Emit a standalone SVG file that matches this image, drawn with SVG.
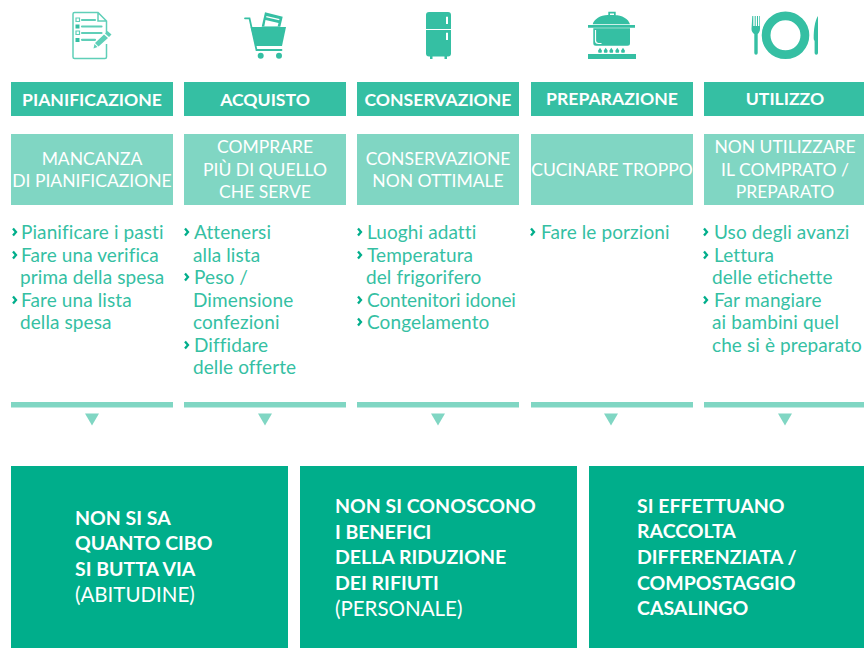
<svg xmlns="http://www.w3.org/2000/svg" width="864" height="648" viewBox="0 0 864 648">
<style>
text{font-family:"Lato","Liberation Sans",sans-serif}
.h{fill:#35bfa3}.l{fill:#80d6c3}.b{fill:#00ae8b}.w{fill:#fff}
.ht{fill:#fff;font-size:17.600px;font-weight:700;text-anchor:middle}
.st{fill:#fff;font-size:17.500px;text-anchor:middle}
.it{fill:#35bfa3;font-size:19px;letter-spacing:.1px}
.ch{fill:none;stroke:#00ae8b;stroke-width:2.300}
.bt{fill:#fff;font-size:19.500px;font-weight:700}
.bn{fill:#fff;font-size:20.500px}
.ln{fill:none;stroke:#5fcfb8;stroke-width:1.200}
.lt{fill:none;stroke:#5fcfb8;stroke-width:2.200;stroke-linecap:round}
</style>
<defs>
<path id="c" class="ch" d="M13 228.500l3 3.500-3 3.500"/>
<path id="t" class="l" d="M85 413.500h14l-7 12z"/>
</defs>
<g id="icons">
<g id="icon-list">
<path class="ln" style="stroke-width:1.500" d="M106.500 33V21L98 12.500H74.500a1.500 1.500 0 0 0-1.500 1.500v43a1.500 1.500 0 0 0 1.500 1.500H105a1.500 1.500 0 0 0 1.500-1.500V44M98 12.500V21h8.500"/>
<path class="lt" d="M82 20h13M82 26.500h19.500M82 33h19.500M82 39.800h13"/>
<path class="ln" d="M76 18h3.500v3.500H76zM76 31h3.500v3.500H76z"/>
<path class="h" d="M75.500 24.500h4v4h-4zM75.500 38h4v4h-4z"/>
<path class="lt" style="stroke-width:3.600;stroke:#fff" d="M109 35L97 46"/>
<path class="h" style="fill:#5fcfb8" d="M107.500 31l4 3.500-2.500 2.500-4-3.500zM104 34.500l4 3.500-9.500 8.500-3.500-3.500zM94.500 44l3 3-4 1.500z"/>
</g>
<g id="icon-cart">
<path class="h" d="M250.700 27H286l-4 19h-26.300z"/>
<path class="h" d="M265 12.300l17.700 4.400-2.400 10H261.700z"/>
<path class="w" d="M265.500 20l13 3-.8 3.200h-13.400zM266.500 16l13 3-.4 1.200-13-3z"/>
<path class="lt" style="stroke:#35bfa3;stroke-width:1.800" d="M245 18.300h4.500l7 31.700h25"/>
<circle class="h" cx="260.700" cy="55.700" r="3"/><circle class="h" cx="279" cy="55.700" r="3"/>
</g>
<g id="icon-fridge">
<path class="h" d="M426 29v-14a3 3 0 0 1 3-3h19a3 3 0 0 1 3 3v14zM426 30h25v23.500a3 3 0 0 1-3 3h-19a3 3 0 0 1-3-3zM430 56h2.500v3H430zM444.500 56h2.500v3h-2.500z"/>
<path class="w" d="M446 16.700h2V24h-2zM446 32.700h2V40h-2z"/>
</g>
<g id="icon-pot">
<path class="h" d="M588 25h47v2.700h-47zM592.700 24.300c1-5 8-9.300 15-9.300h7c7 0 14 4 15.300 9.300zM608.300 11.700h7.400V15.500h-1.700v-2h-4v2h-1.700zM593.300 28.300H630v15a2.500 2.500 0 0 1-2.500 2.500h-31.700a2.500 2.500 0 0 1-2.500-2.500zM588 54h48v5h-48z"/>
<path class="ln" style="stroke:#fff" d="M595.500 30v10.500a3 3 0 0 0 3 3h3"/>
<path class="h" d="M600 47.700l2 3-.5 2h-3l-.5-2zM605.700 47.700l2 3-.5 2h-3l-.5-2zM611.300 47.700l2 3-.5 2h-3l-.5-2zM617.300 47.700l2 3-.5 2h-3l-.5-2zM623 47.700l2 3-.5 2h-3l-.5-2z"/>
</g>
<g id="icon-plate">
<circle cx="785.500" cy="35.300" r="19.400" fill="none" stroke="#35bfa3" stroke-width="8.800"/>
<path class="h" d="M752.300 16h1v10h1.400V16h1v10h1.300V16h1v10h1.300V16h.7v13c0 2.500-1.300 4-2.300 5v19a1.700 1.700 0 0 1-3.400 0V34c-1.500-1-2.800-2.500-2.800-5z"/>
<path class="h" d="M818 16v37a1.700 1.700 0 0 1-3.400 0V41c-.6-1-.9-1.500-.9-3c0-8 1-17 4.300-22z"/>
</g>
</g>
<g id="col1">
<rect class="h" x="11" y="82" width="162" height="34"/>
<text class="ht" x="92" y="105.500">PIANIFICAZIONE</text>
<rect class="l" x="11" y="134" width="162" height="71"/>
<text class="st" x="92" y="164.500">MANCANZA</text><text class="st" x="92" y="186.500">DI PIANIFICAZIONE</text>
<use href="#c"/><text class="it" x="21" y="238.500">Pianificare i pasti</text>
<use href="#c" y="23"/><text class="it" x="21" y="261.500">Fare una verifica</text><text class="it" x="20" y="283.500">prima della spesa</text>
<use href="#c" y="68"/><text class="it" x="21" y="306.500">Fare una lista</text><text class="it" x="20" y="328.500">della spesa</text>
<rect class="l" x="11" y="402" width="162" height="5.500"/>
<use href="#t"/>
</g>
<g id="col2">
<rect class="h" x="184" y="82" width="162" height="34"/>
<text class="ht" x="265" y="105.500">ACQUISTO</text>
<rect class="l" x="184" y="134" width="162" height="71"/>
<text class="st" x="265" y="153">COMPRARE</text><text class="st" x="265" y="175.500">PIÙ DI QUELLO</text><text class="st" x="265" y="198">CHE SERVE</text>
<use href="#c" x="172"/><text class="it" x="194" y="238.500">Attenersi</text><text class="it" x="193" y="261.500">alla lista</text>
<use href="#c" x="172" y="45"/><text class="it" x="194" y="283.500">Peso /</text><text class="it" x="193" y="306.500">Dimensione</text><text class="it" x="193" y="328.500">confezioni</text>
<use href="#c" x="172" y="113"/><text class="it" x="194" y="351.500">Diffidare</text><text class="it" x="193" y="373.500">delle offerte</text>
<rect class="l" x="184" y="402" width="162" height="5.500"/>
<use href="#t" x="173"/>
</g>
<g id="col3">
<rect class="h" x="357" y="82" width="162" height="34"/>
<text class="ht" x="438" y="105.500">CONSERVAZIONE</text>
<rect class="l" x="357" y="134" width="162" height="71"/>
<text class="st" x="438" y="164.500">CONSERVAZIONE</text><text class="st" x="438" y="186.500">NON OTTIMALE</text>
<use href="#c" x="345"/><text class="it" x="367" y="238.500">Luoghi adatti</text>
<use href="#c" x="345" y="23"/><text class="it" x="367" y="261.500">Temperatura</text><text class="it" x="366" y="283.500">del frigorifero</text>
<use href="#c" x="345" y="68"/><text class="it" x="367" y="306.500" textLength="149">Contenitori idonei</text>
<use href="#c" x="345" y="90"/><text class="it" x="367" y="328.500">Congelamento</text>
<rect class="l" x="357" y="402" width="162" height="5.500"/>
<use href="#t" x="346"/>
</g>
<g id="col4">
<rect class="h" x="531" y="82" width="162" height="34"/>
<text class="ht" x="612" y="104.500">PREPARAZIONE</text>
<rect class="l" x="531" y="134" width="162" height="71"/>
<text class="st" x="612" y="176">CUCINARE TROPPO</text>
<use href="#c" x="518"/><text class="it" x="541" y="238.500">Fare le porzioni</text>
<rect class="l" x="531" y="402" width="162" height="5.500"/>
<use href="#t" x="519"/>
</g>
<g id="col5">
<rect class="h" x="704" y="82" width="160" height="34"/>
<text class="ht" x="785" y="104.500">UTILIZZO</text>
<rect class="l" x="704" y="134" width="160" height="71"/>
<text class="st" x="785" y="153">NON UTILIZZARE</text><text class="st" x="785" y="175.500">IL COMPRATO /</text><text class="st" x="785" y="197.500">PREPARATO</text>
<use href="#c" x="691"/><text class="it" x="714" y="238.500">Uso degli avanzi</text>
<use href="#c" x="691" y="23"/><text class="it" x="714" y="261.500">Lettura</text><text class="it" x="712" y="283.500">delle etichette</text>
<use href="#c" x="691" y="68"/><text class="it" x="714" y="306.500">Far mangiare</text><text class="it" x="712" y="328.500">ai bambini quel</text><text class="it" x="712" y="351.500">che si è preparato</text>
<rect class="l" x="704" y="402" width="160" height="5.500"/>
<use href="#t" x="693"/>
</g>
<g id="box1">
<rect class="b" x="11" y="466" width="277" height="182"/>
<text class="bt" x="75" y="524.500">NON SI SA</text><text class="bt" x="75" y="550">QUANTO CIBO</text><text class="bt" x="75" y="575.500">SI BUTTA VIA</text><text class="bn" x="75" y="601.500">(ABITUDINE)</text>
</g>
<g id="box2">
<rect class="b" x="300" y="466" width="277" height="182"/>
<text class="bt" x="335" y="512.500">NON SI CONOSCONO</text><text class="bt" x="335" y="538.500">I BENEFICI</text><text class="bt" x="335" y="564">DELLA RIDUZIONE</text><text class="bt" x="335" y="589.500">DEI RIFIUTI</text><text class="bn" x="335" y="615.500">(PERSONALE)</text>
</g>
<g id="box3">
<rect class="b" x="589" y="466" width="275" height="182"/>
<text class="bt" x="637" y="512.500">SI EFFETTUANO</text><text class="bt" x="637" y="538">RACCOLTA</text><text class="bt" x="637" y="564">DIFFERENZIATA /</text><text class="bt" x="637" y="589.500">COMPOSTAGGIO</text><text class="bt" x="637" y="615">CASALINGO</text>
</g>
</svg>
